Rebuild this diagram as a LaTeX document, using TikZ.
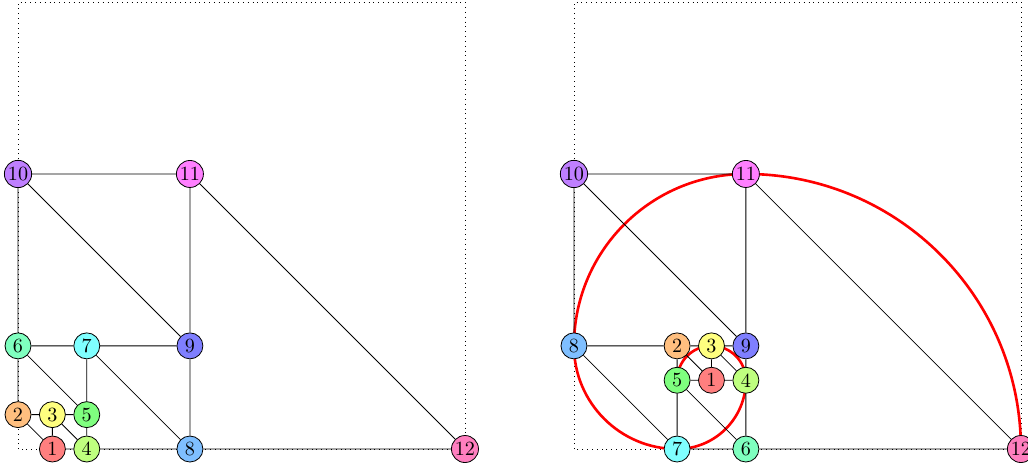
\documentclass[tikz,border=0pt]{standalone}
\usetikzlibrary{calc}
\definecolor{c1}{HTML}{FF7F7F}
\definecolor{c2}{HTML}{FFBF7F}
\definecolor{c3}{HTML}{FFFF7F}
\definecolor{c4}{HTML}{BFFF7F}
\definecolor{c5}{HTML}{7FFF7F}
\definecolor{c6}{HTML}{7FFFBF}
\definecolor{c7}{HTML}{7FFFFF}
\definecolor{c8}{HTML}{7FBFFF}
\definecolor{c9}{HTML}{7F7FFF}
\definecolor{c10}{HTML}{BF7FFF}
\definecolor{c11}{HTML}{FF7FFF}
\definecolor{c12}{HTML}{FF7FBF}
\tikzset{
  vtx/.style={circle,draw,inner sep=0.5pt,minimum size=12.9pt,fill=#1},
  frame/.style={dotted},
  spiral/.style={red,line width=1.3pt},
}
\begin{document}
\begin{tikzpicture}[x=0.6cm,y=0.6cm]
\useasboundingbox (-0.524,-0.553) rectangle (29.376,13.06);
% ---------- left ----------
\draw[frame] (0,0) rectangle (13,13);
\node[vtx=c1] (a1) at (1,0) {1};
\node[vtx=c2] (a2) at (0,1) {2};
\node[vtx=c3] (a3) at (1,1) {3};
\node[vtx=c4] (a4) at (2,0) {4};
\node[vtx=c5] (a5) at (2,1) {5};
\node[vtx=c6] (a6) at (0,3) {6};
\node[vtx=c7] (a7) at (2,3) {7};
\node[vtx=c8] (a8) at (5,0) {8};
\node[vtx=c9] (a9) at (5,3) {9};
\node[vtx=c10] (a10) at (0,8) {10};
\node[vtx=c11] (a11) at (5,8) {11};
\node[vtx=c12] (a12) at (13,0) {12};
\draw (a10) -- (a11) (a10) -- (a6) (a10) -- (a9) (a11) -- (a9) (a11) -- (a12)
      (a6) -- (a7) (a7) -- (a9) (a6) -- (a2) (a6) -- (a5) (a7) -- (a5)
      (a7) -- (a8) (a9) -- (a8)
      (a2) -- (a3) (a3) -- (a5) (a2) -- (a1) (a3) -- (a1) (a3) -- (a4)
      (a5) -- (a4) (a1) -- (a4) (a4) -- (a8) (a8) -- (a12);
% ---------- right ----------
\begin{scope}[xshift=16.17*0.6cm]
\draw[frame] (0,0) rectangle (13,13);
\coordinate (p12) at (13,0);
\draw[spiral] (p12) arc[start angle=0,end angle=90,radius=8]
  arc[start angle=90,end angle=180,radius=5]
  arc[start angle=180,end angle=270,radius=3]
  arc[start angle=270,end angle=360,radius=2]
  arc[start angle=0,end angle=180,radius=1];
\node[vtx=c1] (b1) at (4,2) {1};
\node[vtx=c2] (b2) at (3,3) {2};
\node[vtx=c3] (b3) at (4,3) {3};
\node[vtx=c4] (b4) at (5,2) {4};
\node[vtx=c5] (b5) at (3,2) {5};
\node[vtx=c6] (b6) at (5,0) {6};
\node[vtx=c7] (b7) at (3,0) {7};
\node[vtx=c8] (b8) at (0,3) {8};
\node[vtx=c9] (b9) at (5,3) {9};
\node[vtx=c10] (b10) at (0,8) {10};
\node[vtx=c11] (b11) at (5,8) {11};
\node[vtx=c12] (b12) at (p12) {12};
\draw (b10) -- (b11) (b10) -- (b8) (b10) -- (b9) (b11) -- (b9) (b11) -- (b12)
      (b8) -- (b2) (b2) -- (b3) (b3) -- (b9) (b8) -- (b7)
      (b2) -- (b5) (b5) -- (b1) (b1) -- (b4) (b3) -- (b1) (b2) -- (b1)
      (b3) -- (b4) (b9) -- (b4) (b5) -- (b7) (b5) -- (b6) (b4) -- (b6)
      (b7) -- (b6) (b6) -- (b12);
\end{scope}
\end{tikzpicture}
\end{document}
